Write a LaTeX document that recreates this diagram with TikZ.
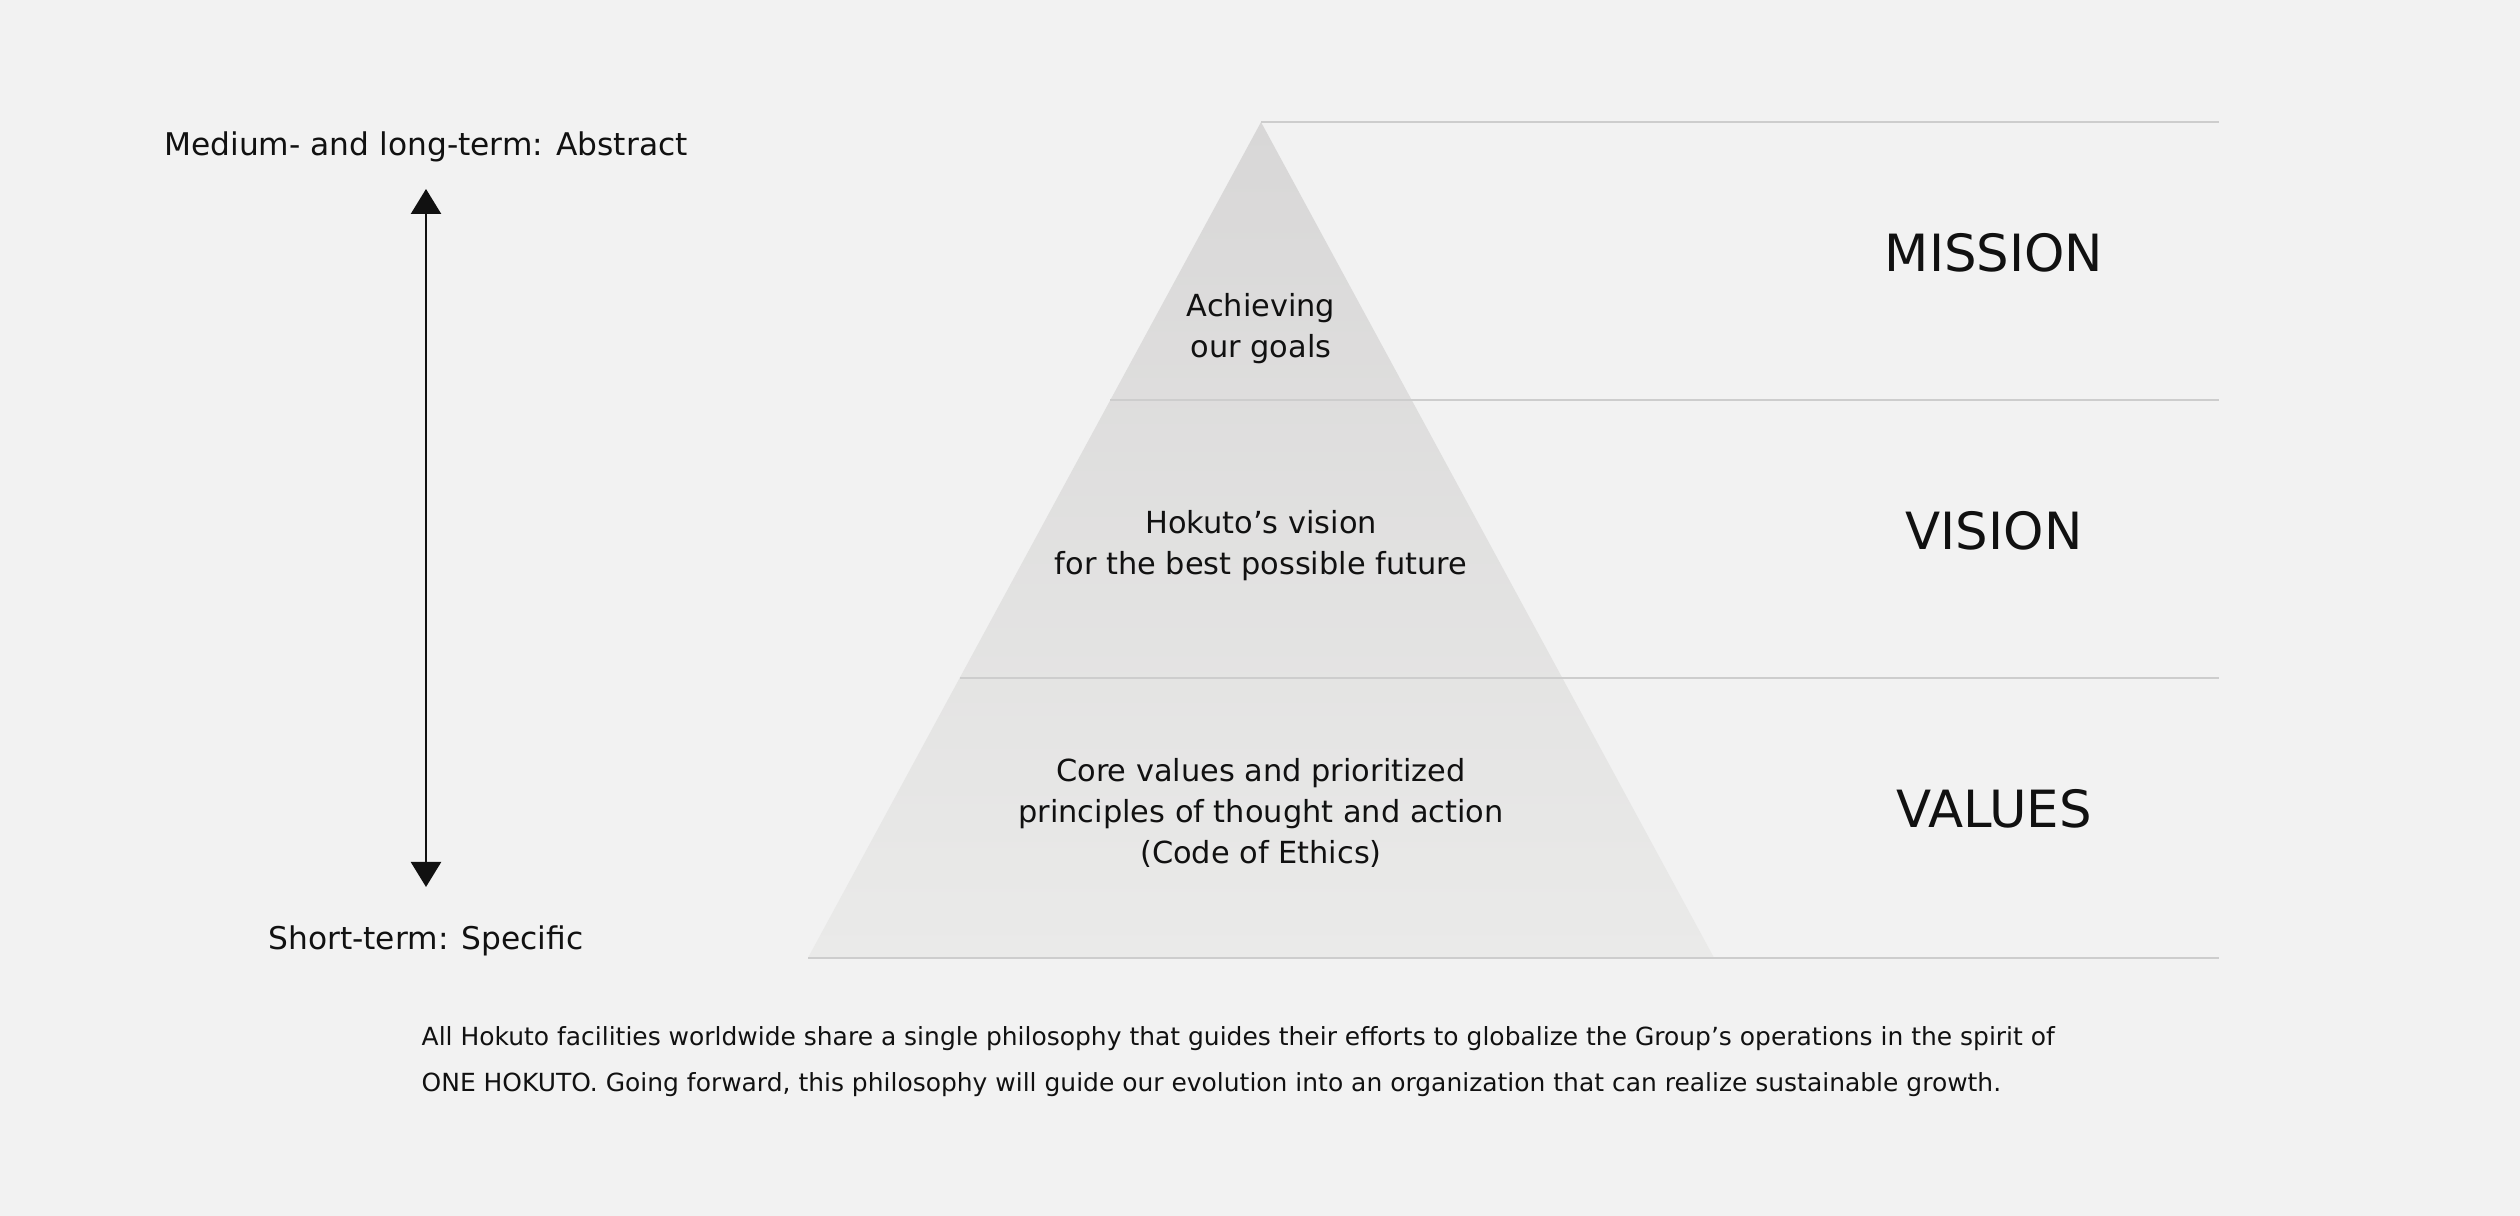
\documentclass[tikz,border=0pt]{standalone}
\usepackage{fontspec}
\setmainfont{DejaVu Sans}
\usetikzlibrary{arrows.meta}
\definecolor{bgc}{HTML}{F2F2F2}
\definecolor{rulec}{HTML}{CDCDCD}
\definecolor{pyrtop}{HTML}{D8D7D7}
\definecolor{pyrbot}{HTML}{EAEAE9}
\definecolor{ink}{HTML}{111111}
\begin{document}
\begin{tikzpicture}[>={Triangle[length=2.5mm,width=3mm]},
    rule/.style={rulec, line width=0.6pt},
    pyrtext/.style={align=center, text=ink, font=\fontsize{8.65}{11.6}\selectfont},
    levtext/.style={anchor=base, text=ink, font=\fontsize{14.6}{17}\selectfont},
    sidetext/.style={anchor=base, text=ink, font=\fontsize{8.9}{11}\selectfont}]
    \useasboundingbox (0,0) rectangle (25.2,12.16);
    \fill[bgc] (0,0) rectangle (25.2,12.16);
    % pyramid
    \coordinate (apex) at (12.61,10.939);
    \coordinate (bl) at (8.08,2.582);
    \coordinate (br) at (17.14,2.582);
    \shade[top color=pyrtop, bottom color=pyrbot] (apex) -- (br) -- (bl) -- cycle;
    \draw[rule] (apex) -- (22.19,10.939);
    \draw[rule] (11.10,8.158) -- (22.19,8.158);
    \draw[rule] (9.595,5.378) -- (22.19,5.378);
    \draw[rule] (bl) -- (22.19,2.582);
    \node[pyrtext] (goals) at (12.61,8.87) {Achieving\\our goals};
    \node[pyrtext] (vision) at (12.61,6.70) {Hokuto’s vision\\for the best possible future};
    \node[pyrtext] (values) at (12.61,4.03) {Core values and prioritized\\principles of thought and action\\(Code of Ethics)};
    % level names
    \node[levtext] (missionlbl) at (19.94,9.443) {MISSION};
    \node[levtext] (visionlbl) at (19.94,6.663) {VISION};
    \node[levtext] (valueslbl) at (19.94,3.883) {VALUES};
    % time axis
    \node[sidetext] (abstract) at (4.26,10.60) {Medium- and long-term: Abstract};
    \node[sidetext] (specific) at (4.26,2.667) {Short-term: Specific};
    \coordinate (uptip) at (4.26,10.27);
    \coordinate (downtip) at (4.26,3.29);
    \draw[<->, ink, line width=0.7pt] (downtip) -- (uptip);
    \node[anchor=north west, align=left, inner sep=0pt, text=ink, font=\fontsize{7.1}{13}\selectfont] (note) at (4.21,1.90)
        {All Hokuto facilities worldwide share a single philosophy that guides their efforts to globalize the Group’s operations in the spirit of\\ONE HOKUTO. Going forward, this philosophy will guide our evolution into an organization that can realize sustainable growth.};
\end{tikzpicture}
\end{document}
